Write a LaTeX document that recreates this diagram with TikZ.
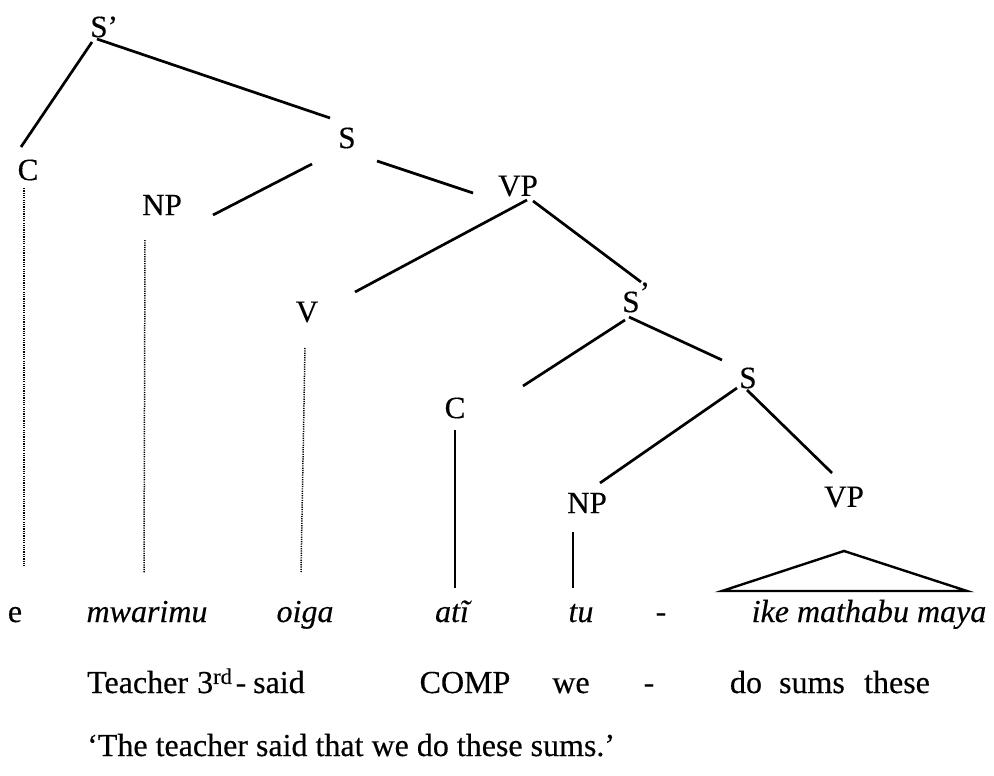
\documentclass[tikz,border=0pt]{standalone}
\usepackage{fontspec}
\setmainfont{Liberation Serif}[UprightFeatures={FakeBold=0.35},ItalicFeatures={FakeBold=0.35}]
\begin{document}
\begin{tikzpicture}[x=1pt,y=-1pt,
  lab/.style={inner sep=0pt,font=\fontsize{31}{36}\selectfont},
  word/.style={inner sep=0pt,anchor=base,font=\fontsize{32}{38}\selectfont},
  iword/.style={word,font=\fontsize{32}{38}\selectfont\itshape},
  branch/.style={line width=2.7pt},
  stem/.style={line width=1.8pt},
  trace/.style={line width=1.5pt,dash pattern=on 1.2pt off 1.1pt},
  tri/.style={line width=2.4pt,line join=miter}]
\fill[white] (0,0) rectangle (994,776);
\useasboundingbox (0,0) rectangle (994,776);

% tree labels
\node[lab] (Sp1) at (99,27) {S\smash{\rlap{’}}};
\node[lab] (C1) at (28,170) {C};
\node[lab] (S1) at (347,138) {S};
\node[lab] (NP1) at (162,205) {NP};
\node[lab] (VP1) at (518,186) {VP};
\node[lab] (V) at (307,312) {V};
\node[lab] (Sp2) at (631,302) {S\smash{\rlap{\raisebox{9pt}{’}}}};
\node[lab] (C2) at (455,408) {C};
\node[lab] (S2) at (748,378) {S};
\node[lab] (NP2) at (587,503) {NP};
\node[lab] (VP2) at (844,497) {VP};

% object-language words
\node[word] (e) at (15,622) {e};
\node[iword] (mwarimu) at (147,622) {mwarimu};
\node[iword] (oiga) at (305,622) {oiga};
\node[iword] (ati) at (452,622) {atĩ};
\node[iword] (tu) at (581,622) {tu};
\node[iword] (dash1) at (661,622) {-};
\node[iword] (ike) at (869,622) {ike mathabu maya};

% gloss
\node[word,anchor=base west] (teacher) at (87,693) {Teacher};
\node[word,anchor=base west] (third) at (197,693) {3\textsuperscript{rd}};
\node[word] (dash2) at (241,693) {-};
\node[word,anchor=base west] (said) at (253,693) {said};
\node[word] (comp) at (465,693) {COMP};
\node[word] (we) at (571,693) {we};
\node[word] (dash3) at (649,693) {-};
\node[word] (do) at (746,693) {do};
\node[word] (sums) at (812,693) {sums};
\node[word] (these) at (897,693) {these};

% translation
\node[word,anchor=base west] (transl) at (87,756) {‘The teacher said that we do these sums.’};

% branches
\draw[branch] ([shift={(-7,15)}]Sp1.center) -- ([shift={(-7,-23)}]C1.center);
\draw[branch] ([shift={(-2,12)}]Sp1.center) -- ([shift={(-17,-20)}]S1.center);
\draw[branch] ([shift={(-35,26)}]S1.center) -- ([shift={(51,10)}]NP1.center);
\draw[branch] ([shift={(30,23)}]S1.center) -- ([shift={(-45,7)}]VP1.center);
\draw[branch] ([shift={(9,14)}]VP1.center) -- ([shift={(48,-20)}]V.center);
\draw[branch] ([shift={(15,15)}]VP1.center) -- ([shift={(10,-20)}]Sp2.center);
\draw[branch] ([shift={(-6,18)}]Sp2.center) -- ([shift={(68,-22)}]C2.center);
\draw[branch] ([shift={(-2,15)}]Sp2.center) -- ([shift={(-26,-18)}]S2.center);
\draw[branch] ([shift={(-11,10)}]S2.center) -- ([shift={(13,-20)}]NP2.center);
\draw[branch] ([shift={(-1,12)}]S2.center) -- ([shift={(-12,-24)}]VP2.center);

% solid stems
\draw[stem] ([shift={(0,22)}]C2.center) -- ([shift={(3,-34)}]ati.base);
\draw[stem] ([shift={(-14,29)}]NP2.center) -- ([shift={(-8,-34)}]tu.base);

% dotted traces
\draw[trace] ([shift={(-4,18)}]C1.center) -- ([shift={(9,-56)}]e.base);
\draw[trace] ([shift={(-17,35)}]NP1.center) -- ([shift={(-3,-49)}]mwarimu.base);
\draw[trace] ([shift={(-2,36)}]V.center) -- ([shift={(-4,-50)}]oiga.base);

% triangle
\draw[tri] ([shift={(0,54)}]VP2.center) -- ([shift={(-122,94)}]VP2.center) -- ([shift={(123,94)}]VP2.center) -- cycle;
\end{tikzpicture}
\end{document}
